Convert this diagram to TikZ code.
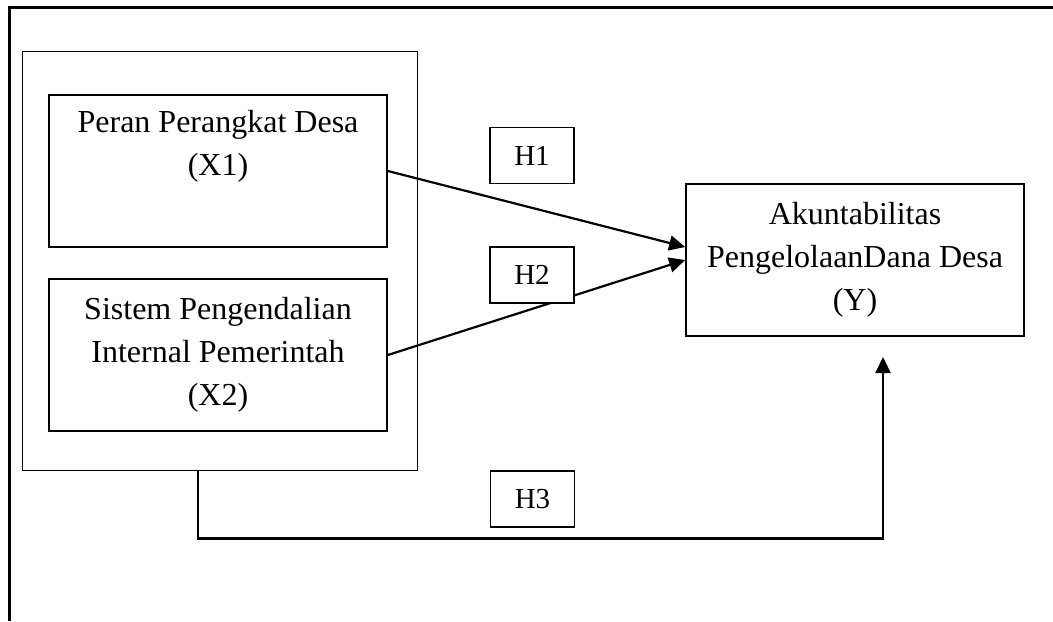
\documentclass[tikz,border=0pt]{standalone}
\usepackage{fontspec}
\setmainfont{Liberation Serif}
\usetikzlibrary{arrows.meta, positioning, calc}

\begin{document}
\begin{tikzpicture}[x=0.5pt, y=-0.5pt,
  box/.style={draw, line width=0.85pt, fill=white, inner sep=0pt, align=center, minimum width=169pt, minimum height=76pt, font=\fontsize{16}{21.5}\selectfont},
  hbox/.style={draw, line width=0.7pt, fill=white, minimum width=42pt, minimum height=28pt, inner sep=0pt, font=\fontsize{14.5}{16}\selectfont},
  arr/.style={line width=1.1pt, -{Triangle[length=8pt, width=7.5pt]}}]
  \useasboundingbox (0,0) rectangle (1053,621);

  % Frame
  \draw[line width=1.5pt] (9,621) -- (9,7) -- (1053,7);

  % Group of independent variables
  \node[draw, line width=0.45pt, minimum width=197.5pt, minimum height=209.5pt] (grup) at (219.5,260.5) {};

  % X1 and X2
  \node[box] (perangkat) at (218,171) {Peran Perangkat Desa\\(X1)\\\strut};
  \node[box] (spip) at (218,355) {Sistem Pengendalian\\Internal Pemerintah\\(X2)};

  % Y
  \node[box] (akun) at (855,260) {Akuntabilitas\\PengelolaanDana Desa\\(Y)};

  % Arrows
  \draw[arr] (perangkat.east) -- ([yshift=6.5pt]akun.west);
  \draw[arr] (spip.east) -- (akun.west);
  \coordinate (ytip) at (883,357);
  \draw[arr] ([xshift=-10.75pt]grup.south) -- ++(0,68) -| (ytip);

  % Hypothesis labels
  \node[hbox] (h1) at (532,155.5) {H1};
  \node[hbox] (h2) at (532,275) {H2};
  \node[hbox] (h3) at (532.5,499) {H3};
\end{tikzpicture}
\end{document}
